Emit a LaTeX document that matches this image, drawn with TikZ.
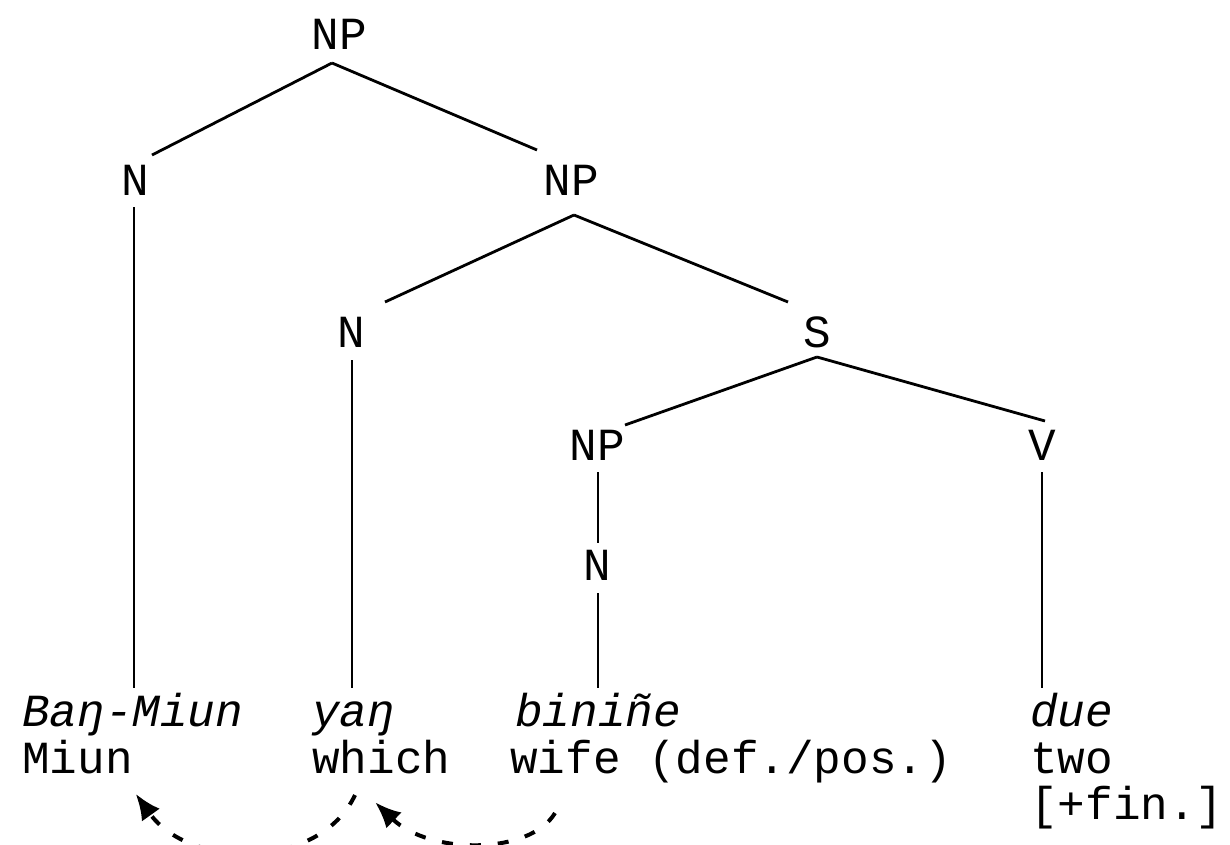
\documentclass[tikz,border=0pt]{standalone}
\usepackage{fontspec}
\setmainfont{Liberation Mono}
\usetikzlibrary{calc,arrows.meta}
\begin{document}
\begin{tikzpicture}[x=1pt,y=-1pt,
  every node/.style={inner sep=0pt,anchor=base,font=\fontsize{46}{50}\selectfont},
  cat/.style={},
  form/.style={anchor=base west,font=\fontsize{46}{50}\selectfont\itshape},
  gloss/.style={anchor=base west},
  branch/.style={line width=2.8pt},
  move/.style={line width=4pt,dash pattern=on 11pt off 17pt,
    -{Latex[length=26pt,width=22pt,sep=-4pt]}}]
\useasboundingbox (0,0) rectangle (1230,844);

% category labels
\node[cat] (np0) at (339,49) {NP};
\node[cat] (n1)  at (135,195) {N};
\node[cat] (np1) at (571,195) {NP};
\node[cat] (n2)  at (351,347) {N};
\node[cat] (s)   at (817,347) {S};
\node[cat] (np2) at (597,460) {NP};
\node[cat] (v)   at (1042,460) {V};
\node[cat] (n3)  at (597,580) {N};

% words and glosses
\node[form]  (f1) at (22,726) {Baŋ-Miun};
\node[gloss] (g1) at (22,773) {Miun};
\node[form]  (f2) at (312,726) {yaŋ};
\node[gloss] (g2) at (312,773) {which};
\node[form]  (f3) at (515,726) {biniñe};
\node[gloss] (g3) at (510,773) {wife (def./pos.)};
\node[form]  (f4) at (1030,726) {due};
\node[gloss] (g4) at (1030,773) {two};
\node[gloss] (g4b) at (1030,819) {[+fin.]};

% branches
\draw[branch] ($(np0.base)+(-7,14)$) -- ($(n1.base)+(17,-40)$);
\draw[branch] ($(np0.base)+(-7,14)$) -- ($(np1.base)+(-34,-45)$);
\draw[branch] ($(n1.base)+(-1,12)$) -- ($(f1.base west)+(112,-38)$);
\draw[branch] ($(np1.base)+(3,20)$) -- ($(n2.base)+(34,-45)$);
\draw[branch] ($(np1.base)+(3,20)$) -- ($(s.base)+(-29,-45)$);
\draw[branch] ($(n2.base)+(1,13)$) -- ($(f2.base west)+(40,-38)$);
\draw[branch] ($(s.base)+(0,10)$) -- ($(np2.base)+(28,-35)$);
\draw[branch] ($(s.base)+(0,10)$) -- ($(v.base)+(3,-39)$);
\draw[branch] ($(np2.base)+(1,12)$) -- ($(n3.base)+(1,-37)$);
\draw[branch] ($(n3.base)+(1,13)$) -- ($(f3.base west)+(83,-38)$);
\draw[branch] ($(v.base)+(0,12)$) -- ($(f4.base west)+(12,-38)$);

% movement arrows
\coordinate (m1) at ($(g2.base west)+(43,22)$);
\coordinate (m2) at ($(g3.base west)+(45,40)$);
\draw[move] (m1) .. controls ($(m1)+(-35,75)$) and ($(m1)+(-165,75)$) .. ($(g1.base west)+(116,24)$);
\draw[move] (m2) .. controls ($(m2)+(-25,42)$) and ($(m2)+(-125,42)$) .. ($(g2.base west)+(66,32)$);
\end{tikzpicture}
\end{document}
